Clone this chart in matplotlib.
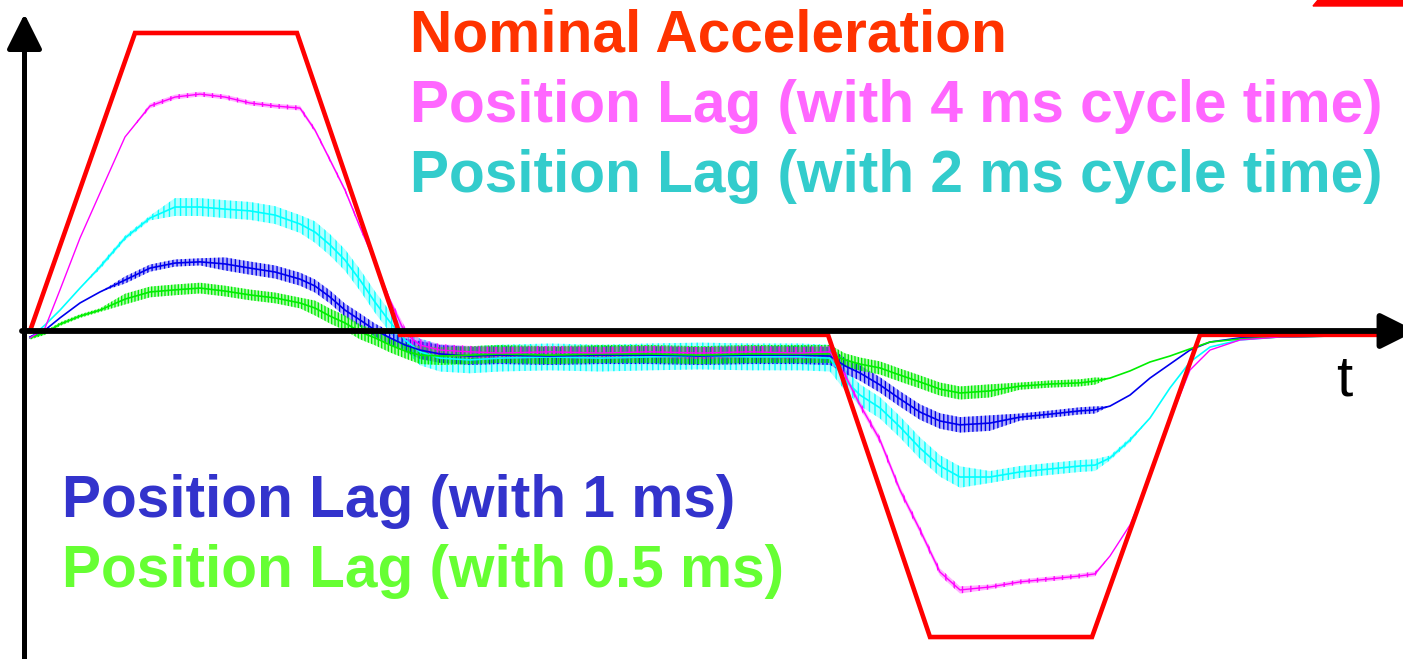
import matplotlib
matplotlib.use('Agg')
import matplotlib.pyplot as plt
from matplotlib.patches import Polygon

# time axis (arbitrary units) and accelerations in % of nominal peak
t = [0.5, 2.0, 3.5, 5.5, 7.5, 10.0, 12.5, 15.0, 17.5, 20.0, 22.5, 25.0, 27.5,
     29.0, 30.5, 32.0, 33.5, 35.0, 36.5, 38.0, 39.5, 41.5, 44.5, 47.5, 52.5,
     57.5, 62.5, 67.5, 72.5, 77.5, 80.5, 82.0, 83.5, 85.5, 87.5, 89.5, 91.5,
     93.5, 96.5, 99.5, 102.5, 105.5, 107.0, 108.5, 110.5, 112.5, 114.5, 116.5,
     118.5, 121.5, 125.5, 130.5, 136.0]

nominal_t = [0.5, 11.0, 27.2, 37.5, 80.3, 90.5, 106.7, 117.5, 136.0]
nominal_a = [0.0, 100.0, 100.0, -1.3, -1.3, -102.7, -102.7, -1.3, -1.3]

lag_4ms = [-2.3, 1.0, 13.8, 31.2, 46.3, 65.1, 75.5, 78.5, 79.5, 78.5, 76.5, 75.5,
           74.8, 67.4, 57.4, 47.3, 34.9, 23.2, 10.4, -0.7, -4.7, -6.4, -7.0, -7.4,
           -7.0, -7.4, -7.0, -7.4, -7.0, -7.4, -7.0, -14.8, -24.8, -36.6, -53.4,
           -66.8, -80.9, -86.9, -85.9, -84.2, -83.2, -82.2, -81.5, -75.5, -65.1,
           -49.0, -29.9, -13.1, -6.4, -3.0, -2.0, -1.7, -1.7]
lag_2ms = [-2.3, 2.0, 7.0, 14.4, 21.5, 31.2, 37.9, 41.6, 41.6, 40.9, 40.3, 38.9,
           35.9, 33.2, 28.9, 23.8, 17.1, 9.7, 3.0, -3.0, -7.0, -9.1, -9.7, -9.1,
           -8.7, -9.1, -8.7, -8.4, -8.7, -8.7, -9.1, -16.4, -21.5, -25.8, -32.2,
           -39.3, -45.3, -49.0, -49.0, -47.3, -46.3, -45.3, -45.0, -42.6, -36.6,
           -29.2, -19.1, -10.4, -5.4, -3.0, -2.0, -1.7, -1.7]
lag_1ms = [-2.0, 0.3, 4.4, 9.4, 13.1, 17.1, 21.1, 22.8, 23.2, 22.5, 21.1, 19.8,
           17.4, 15.1, 11.4, 7.0, 3.7, 0.3, -2.3, -4.7, -6.4, -7.7, -8.4, -8.1,
           -8.4, -8.1, -8.1, -8.4, -8.1, -8.1, -8.4, -11.7, -14.1, -18.1, -22.8,
           -27.2, -30.2, -31.5, -30.9, -28.9, -27.9, -26.8, -26.5, -25.2, -21.5,
           -15.8, -11.1, -6.4, -3.7, -2.3, -2.0, -1.7, -1.7]
lag_05ms = [-2.3, -0.7, 2.3, 5.0, 7.0, 10.7, 13.1, 13.8, 14.4, 13.4, 12.1, 11.1,
            9.4, 7.7, 5.0, 2.7, -0.3, -2.3, -4.7, -6.7, -8.1, -8.4, -8.1, -7.7,
            -8.1, -7.7, -7.7, -8.1, -7.7, -7.7, -7.7, -9.7, -11.1, -12.4, -14.8,
            -17.1, -19.5, -20.8, -20.1, -18.5, -17.8, -17.4, -16.8, -15.8, -13.4,
            -10.4, -8.4, -6.0, -3.7, -2.7, -2.0, -1.7, -1.7]

# half-width of the measurement noise band, same units
noise_4ms = [0.0]*6 + [0.8]*7 + [0.7]*6 + [2.0]*12 + [1.2]*7 + [0.8]*5 + [0.0]*10
noise_2ms = [0.0]*4 + [0.8]*3 + [3.0]*6 + [3.6]*7 + [4.5]*11 + [3.6]*7 + [2.0]*5 + [0.8]*2 + [0.0]*8
noise_1ms = [0.0]*5 + [1.2]*4 + [2.2]*11 + [3.0]*11 + [2.6]*8 + [1.2]*4 + [0.0]*10
noise_05ms = [0.6]*5 + [1.8]*8 + [2.5]*7 + [3.0]*11 + [2.2]*8 + [1.2]*4 + [0.0]*10

labels = ['Nominal Acceleration', 'Position Lag (with 4 ms cycle time)',
          'Position Lag (with 2 ms cycle time)', 'Position Lag (with 1 ms)',
          'Position Lag (with 0.5 ms)']
label_colors = ['#FF3300', '#FF66FF', '#33CCCC', '#3333CC', '#66FF33']
label_pos = [(410, 52), (410, 122), (410, 192), (62, 517), (62, 587)]

W, H = 1403, 659
plt.rcParams['hatch.linewidth'] = 1.0
fig = plt.figure(figsize=(W/100, H/100), dpi=100)
ax = fig.add_axes([0, 0, 1, 1])
ax.set_xlim(-2.5, 137.8)
ax.set_ylim(-110.07, 111.07)
ax.axis('off')

series = [(lag_2ms, noise_2ms, '#00FFFF', 1.2, '|||'),
          (lag_1ms, noise_1ms, '#0000EE', 1.2, '||||'),
          (lag_05ms, noise_05ms, '#00EE00', 1.2, '|||||'),
          (lag_4ms, noise_4ms, '#FF00FF', 1.0, '||')]
for vals, noise, col, lw, hatch in series:
    lo = [v - n for v, n in zip(vals, noise)]
    hi = [v + n for v, n in zip(vals, noise)]
    ax.fill_between(t, lo, hi, facecolor=col, alpha=0.3, lw=0)
    ax.fill_between(t, lo, hi, facecolor='none', edgecolor=col, hatch=hatch, lw=0)
    ax.plot(t, vals, color=col, lw=lw)

ax.plot(nominal_t, nominal_a, color='#FF0000', lw=3.3, solid_joinstyle='miter')

# axes with arrow heads
ax.annotate('', xy=(139.1, 0), xytext=(-0.3, 0), annotation_clip=False,
            arrowprops=dict(arrowstyle='-|>,head_length=0.8,head_width=0.4',
                            mutation_scale=27, lw=4.2, color='black',
                            shrinkA=0, shrinkB=0))
ax.annotate('', xy=(-0.05, 106.4), xytext=(-0.05, -112), annotation_clip=False,
            arrowprops=dict(arrowstyle='-|>,head_length=0.8,head_width=0.4',
                            mutation_scale=27, lw=3.6, color='black',
                            shrinkA=0, shrinkB=0))
fig.text(1336/W, 1 - 395/H, 't', fontsize=42, family='Liberation Sans',
         color='black', va='baseline')

for txt, col, (px, py) in zip(labels, label_colors, label_pos):
    fig.text(px/W, 1 - py/H, txt, fontsize=42.25, family='Liberation Sans',
             fontweight='bold', color=col, va='baseline')

# clipped red mark in the top right corner
fig.patches.append(Polygon([(1313/W, 1 - 6/H), (1318/W, 1.0), (1.0, 1.0), (1.0, 1 - 6/H)],
                           closed=True, color='#FF0000', transform=fig.transFigure))

fig.savefig('out.png', dpi=100, facecolor='white')
